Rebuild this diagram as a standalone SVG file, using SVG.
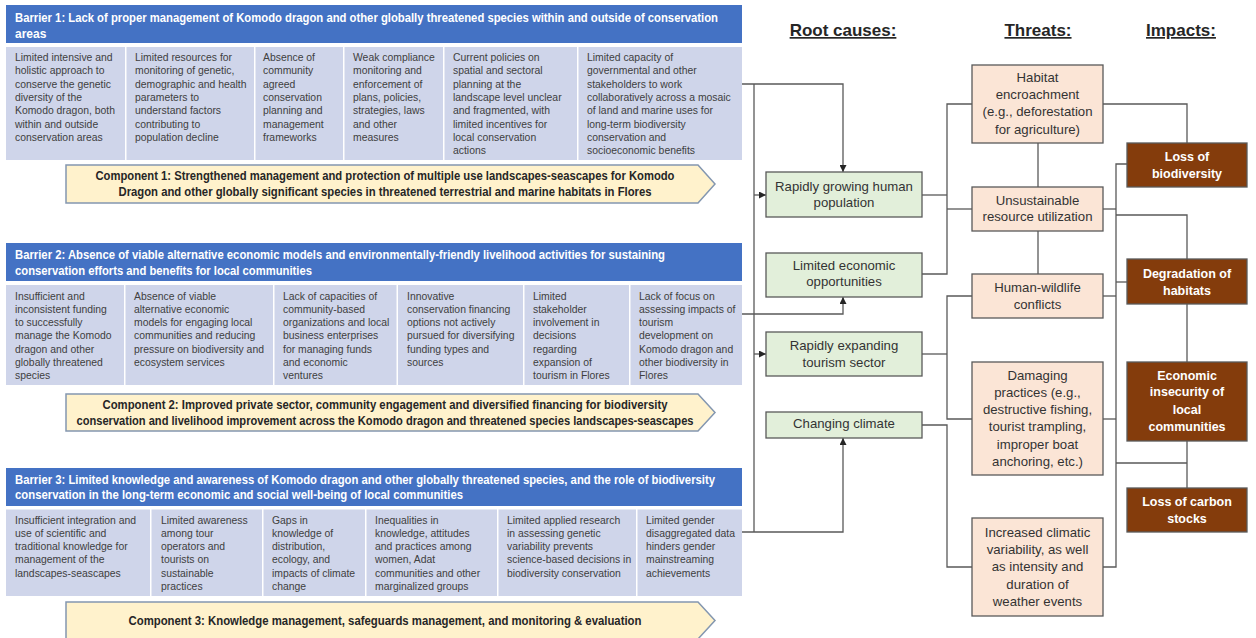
<svg xmlns="http://www.w3.org/2000/svg" width="1256" height="638" viewBox="0 0 1256 638">
<defs>
<style>
.hdr{fill:#4472C4}
.cell{fill:#CFD5EA}
.ht{font-family:"Liberation Sans",Arial,sans-serif;font-size:12px;font-weight:bold;fill:#fff}
.ct{font-family:"Liberation Sans",Arial,sans-serif;font-size:10.4px;fill:#404040}
.comp{fill:#FFF2CC;stroke:#8497B0;stroke-width:1.5}
.cpt{font-family:"Liberation Sans",Arial,sans-serif;font-size:12px;font-weight:bold;fill:#262626;text-anchor:middle}
.rc{fill:#E2EFDA;stroke:#595959;stroke-width:1.3}
.th{fill:#FBE5D6;stroke:#595959;stroke-width:1.3}
.im{fill:#843C0C;stroke:#595959;stroke-width:1.3}
.bt{font-family:"Liberation Sans",Arial,sans-serif;font-size:13.2px;fill:#333;text-anchor:middle}
.it{font-family:"Liberation Sans",Arial,sans-serif;font-size:12.5px;font-weight:bold;fill:#fff;text-anchor:middle}
.ttl{font-family:"Liberation Sans",Arial,sans-serif;font-size:17px;font-weight:bold;fill:#262626;text-anchor:middle;text-decoration:underline}
.conn{stroke:#595959;stroke-width:1.3;fill:none}
</style>
<marker id="ah" viewBox="0 0 10 10" refX="10" refY="5" markerWidth="7" markerHeight="7" markerUnits="userSpaceOnUse" orient="auto">
<path d="M0,0L10,5L0,10z" fill="#262626"/>
</marker>
</defs>
<rect width="1256" height="638" fill="#fff"/>

<!-- Barrier 1 -->
<g id="barrier1">
<rect class="hdr" x="6" y="5" width="736" height="38"/>
<text class="ht"><tspan x="15" y="21.5" textLength="703" lengthAdjust="spacingAndGlyphs">Barrier 1: Lack of proper management of Komodo dragon and other globally threatened species within and outside of conservation</tspan><tspan x="15" y="37.5">areas</tspan></text>
<rect class="cell" x="6" y="47" width="119" height="113"/>
<rect class="cell" x="126.5" y="47" width="127.5" height="113"/>
<rect class="cell" x="255.5" y="47" width="87.5" height="113"/>
<rect class="cell" x="344.5" y="47" width="98.5" height="113"/>
<rect class="cell" x="444.5" y="47" width="132.5" height="113"/>
<rect class="cell" x="578.5" y="47" width="163.5" height="113"/>
<text class="ct"><tspan x="15" y="61">Limited intensive and</tspan><tspan x="15" y="74.3">holistic approach to</tspan><tspan x="15" y="87.6">conserve the genetic</tspan><tspan x="15" y="100.9">diversity of the</tspan><tspan x="15" y="114.2">Komodo dragon, both</tspan><tspan x="15" y="127.5">within and outside</tspan><tspan x="15" y="140.8">conservation areas</tspan></text>
<text class="ct"><tspan x="135" y="61">Limited resources for</tspan><tspan x="135" y="74.3">monitoring of genetic,</tspan><tspan x="135" y="87.6">demographic and health</tspan><tspan x="135" y="100.9">parameters to</tspan><tspan x="135" y="114.2">understand factors</tspan><tspan x="135" y="127.5">contributing to</tspan><tspan x="135" y="140.8">population decline</tspan></text>
<text class="ct"><tspan x="263" y="61">Absence of</tspan><tspan x="263" y="74.3">community</tspan><tspan x="263" y="87.6">agreed</tspan><tspan x="263" y="100.9">conservation</tspan><tspan x="263" y="114.2">planning and</tspan><tspan x="263" y="127.5">management</tspan><tspan x="263" y="140.8">frameworks</tspan></text>
<text class="ct"><tspan x="353" y="61">Weak compliance</tspan><tspan x="353" y="74.3">monitoring and</tspan><tspan x="353" y="87.6">enforcement of</tspan><tspan x="353" y="100.9">plans, policies,</tspan><tspan x="353" y="114.2">strategies, laws</tspan><tspan x="353" y="127.5">and other</tspan><tspan x="353" y="140.8">measures</tspan></text>
<text class="ct"><tspan x="453" y="61">Current policies on</tspan><tspan x="453" y="74.3">spatial and sectoral</tspan><tspan x="453" y="87.6">planning at the</tspan><tspan x="453" y="100.9">landscape level unclear</tspan><tspan x="453" y="114.2">and fragmented, with</tspan><tspan x="453" y="127.5">limited incentives for</tspan><tspan x="453" y="140.8">local conservation</tspan><tspan x="453" y="154.1">actions</tspan></text>
<text class="ct"><tspan x="587" y="61">Limited capacity of</tspan><tspan x="587" y="74.3">governmental and other</tspan><tspan x="587" y="87.6">stakeholders to work</tspan><tspan x="587" y="100.9">collaboratively across a mosaic</tspan><tspan x="587" y="114.2">of land and marine uses for</tspan><tspan x="587" y="127.5">long-term biodiversity</tspan><tspan x="587" y="140.8">conservation and</tspan><tspan x="587" y="154.1">socioeconomic benefits</tspan></text>
</g>
<g id="component1">
<path class="comp" d="M66,165H698L715,184L698,203H66z"/>
<text class="cpt"><tspan x="385" y="180" textLength="579" lengthAdjust="spacingAndGlyphs">Component 1: Strengthened management and protection of multiple use landscapes-seascapes  for Komodo</tspan><tspan x="385" y="196" textLength="533" lengthAdjust="spacingAndGlyphs">Dragon and other globally significant  species in threatened terrestrial and marine habitats  in Flores</tspan></text>
</g>

<!-- Barrier 2 -->
<g id="barrier2">
<rect class="hdr" x="6" y="243" width="736" height="38"/>
<text class="ht"><tspan x="15" y="259" textLength="650" lengthAdjust="spacingAndGlyphs">Barrier 2: Absence of viable alternative economic models and environmentally-friendly livelihood activities for sustaining</tspan><tspan x="15" y="274.5" textLength="297" lengthAdjust="spacingAndGlyphs">conservation  efforts and benefits for local  communities</tspan></text>
<rect class="cell" x="6" y="285" width="118" height="100"/>
<rect class="cell" x="125.5" y="285" width="147.5" height="100"/>
<rect class="cell" x="274.5" y="285" width="122" height="100"/>
<rect class="cell" x="398" y="285" width="125" height="100"/>
<rect class="cell" x="524.5" y="285" width="104.5" height="100"/>
<rect class="cell" x="630.5" y="285" width="111.5" height="100"/>
<text class="ct"><tspan x="15" y="300">Insufficient and</tspan><tspan x="15" y="313">inconsistent funding</tspan><tspan x="15" y="326.3">to successfully</tspan><tspan x="15" y="339.3">manage the Komodo</tspan><tspan x="15" y="352.8">dragon and other</tspan><tspan x="15" y="366.3">globally threatened</tspan><tspan x="15" y="379">species</tspan></text>
<text class="ct"><tspan x="134" y="300">Absence of viable</tspan><tspan x="134" y="313">alternative economic</tspan><tspan x="134" y="326.3">models for engaging local</tspan><tspan x="134" y="339.3">communities and reducing</tspan><tspan x="134" y="352.8">pressure on biodiversity and</tspan><tspan x="134" y="366.3">ecosystem services</tspan></text>
<text class="ct"><tspan x="283" y="300">Lack of capacities of</tspan><tspan x="283" y="313">community-based</tspan><tspan x="283" y="326.3">organizations and local</tspan><tspan x="283" y="339.3">business enterprises</tspan><tspan x="283" y="352.8">for managing funds</tspan><tspan x="283" y="366.3">and economic</tspan><tspan x="283" y="379">ventures</tspan></text>
<text class="ct"><tspan x="407" y="300">Innovative</tspan><tspan x="407" y="313">conservation financing</tspan><tspan x="407" y="326.3">options not actively</tspan><tspan x="407" y="339.3">pursued for diversifying</tspan><tspan x="407" y="352.8">funding types and</tspan><tspan x="407" y="366.3">sources</tspan></text>
<text class="ct"><tspan x="533" y="300">Limited</tspan><tspan x="533" y="313">stakeholder</tspan><tspan x="533" y="326.3">involvement in</tspan><tspan x="533" y="339.3">decisions</tspan><tspan x="533" y="352.8">regarding</tspan><tspan x="533" y="366.3">expansion of</tspan><tspan x="533" y="379">tourism in Flores</tspan></text>
<text class="ct"><tspan x="639" y="300">Lack of focus on</tspan><tspan x="639" y="313">assessing impacts of</tspan><tspan x="639" y="326.3">tourism</tspan><tspan x="639" y="339.3">development on</tspan><tspan x="639" y="352.8">Komodo dragon and</tspan><tspan x="639" y="366.3">other biodiversity in</tspan><tspan x="639" y="379">Flores</tspan></text>
</g>
<g id="component2">
<path class="comp" d="M66,394H698L715,412.5L698,431H66z"/>
<text class="cpt"><tspan x="385" y="409" textLength="565" lengthAdjust="spacingAndGlyphs">Component 2: Improved private sector, community engagement and diversified financing for biodiversity</tspan><tspan x="385" y="424.5" textLength="617" lengthAdjust="spacingAndGlyphs">conservation and livelihood improvement across the Komodo dragon and threatened species landscapes-seascapes</tspan></text>
</g>

<!-- Barrier 3 -->
<g id="barrier3">
<rect class="hdr" x="6" y="468" width="736" height="38"/>
<text class="ht"><tspan x="15" y="483.5" textLength="700" lengthAdjust="spacingAndGlyphs">Barrier 3: Limited knowledge and awareness of Komodo dragon and other globally threatened species, and the role of biodiversity</tspan><tspan x="15" y="499" textLength="448" lengthAdjust="spacingAndGlyphs">conservation  in  the long-term economic and social well-being of local  communities</tspan></text>
<rect class="cell" x="6" y="509.5" width="144" height="86.5"/>
<rect class="cell" x="151.5" y="509.5" width="110.5" height="86.5"/>
<rect class="cell" x="263.5" y="509.5" width="101.5" height="86.5"/>
<rect class="cell" x="366.5" y="509.5" width="130.5" height="86.5"/>
<rect class="cell" x="498.5" y="509.5" width="137.5" height="86.5"/>
<rect class="cell" x="637.5" y="509.5" width="104.5" height="86.5"/>
<text class="ct"><tspan x="15" y="523.5">Insufficient integration and</tspan><tspan x="15" y="536.5">use of scientific and</tspan><tspan x="15" y="550">traditional knowledge for</tspan><tspan x="15" y="563">management of the</tspan><tspan x="15" y="576.5">landscapes-seascapes</tspan></text>
<text class="ct"><tspan x="161" y="523.5">Limited awareness</tspan><tspan x="161" y="536.5">among tour</tspan><tspan x="161" y="550">operators and</tspan><tspan x="161" y="563">tourists on</tspan><tspan x="161" y="576.5">sustainable</tspan><tspan x="161" y="590">practices</tspan></text>
<text class="ct"><tspan x="272" y="523.5">Gaps in</tspan><tspan x="272" y="536.5">knowledge of</tspan><tspan x="272" y="550">distribution,</tspan><tspan x="272" y="563">ecology, and</tspan><tspan x="272" y="576.5">impacts of climate</tspan><tspan x="272" y="590">change</tspan></text>
<text class="ct"><tspan x="375" y="523.5">Inequalities in</tspan><tspan x="375" y="536.5">knowledge, attitudes</tspan><tspan x="375" y="550">and practices among</tspan><tspan x="375" y="563">women, Adat</tspan><tspan x="375" y="576.5">communities and other</tspan><tspan x="375" y="590">marginalized groups</tspan></text>
<text class="ct"><tspan x="507" y="523.5">Limited applied research</tspan><tspan x="507" y="536.5">in assessing genetic</tspan><tspan x="507" y="550">variability prevents</tspan><tspan x="507" y="563">science-based decisions in</tspan><tspan x="507" y="576.5">biodiversity conservation</tspan></text>
<text class="ct"><tspan x="646" y="523.5">Limited gender</tspan><tspan x="646" y="536.5">disaggregated data</tspan><tspan x="646" y="550">hinders gender</tspan><tspan x="646" y="563">mainstreaming</tspan><tspan x="646" y="576.5">achievements</tspan></text>
</g>
<g id="component3">
<path class="comp" d="M66,602H698L715,620.5L698,639H66z"/>
<text class="cpt" x="385" y="625" textLength="513" lengthAdjust="spacingAndGlyphs">Component 3: Knowledge management, safeguards management, and monitoring &amp; evaluation</text>
</g>

<!-- Titles -->
<g id="titles">
<text class="ttl" x="843" y="36">Root causes:</text>
<text class="ttl" x="1038" y="36">Threats:</text>
<text class="ttl" x="1181" y="36">Impacts:</text>
</g>

<!-- Connectors -->
<g id="connectors">
<path class="conn" d="M742,84H843V172" marker-end="url(#ah)"/>
<path class="conn" d="M754,84V532"/>
<path class="conn" d="M754,195H766" marker-end="url(#ah)"/>
<path class="conn" d="M742,314H843V297" marker-end="url(#ah)"/>
<path class="conn" d="M754,354H766" marker-end="url(#ah)"/>
<path class="conn" d="M742,532H843V438" marker-end="url(#ah)"/>
<path class="conn" d="M922,195H947"/>
<path class="conn" d="M972,104H947V274H922"/>
<path class="conn" d="M947,209H972"/>
<path class="conn" d="M1038,143V187"/>
<path class="conn" d="M1038,231V274"/>
<path class="conn" d="M972,296H947V419H972"/>
<path class="conn" d="M922,354H947"/>
<path class="conn" d="M922,425H947V567H972"/>
<path class="conn" d="M1103,104H1187V143"/>
<path class="conn" d="M1127,164H1116V567H1103"/>
<path class="conn" d="M1103,209H1116"/>
<path class="conn" d="M1116,215H1187V259"/>
<path class="conn" d="M1103,296H1116"/>
<path class="conn" d="M1116,282H1127"/>
<path class="conn" d="M1187,304V362"/>
<path class="conn" d="M1103,419H1116"/>
<path class="conn" d="M1116,463H1187"/>
<path class="conn" d="M1187,441V488"/>
</g>

<!-- Root causes -->
<g id="rc1"><rect class="rc" x="766" y="172" width="156" height="45"/><text class="bt"><tspan x="844" y="190.5">Rapidly growing human</tspan><tspan x="844" y="207">population</tspan></text></g>
<g id="rc2"><rect class="rc" x="766" y="253" width="156" height="44"/><text class="bt"><tspan x="844" y="269.5">Limited economic</tspan><tspan x="844" y="286">opportunities</tspan></text></g>
<g id="rc3"><rect class="rc" x="766" y="332" width="156" height="44"/><text class="bt"><tspan x="844" y="350">Rapidly expanding</tspan><tspan x="844" y="366.5">tourism sector</tspan></text></g>
<g id="rc4"><rect class="rc" x="766" y="412" width="156" height="26"/><text class="bt" x="844" y="428">Changing climate</text></g>

<!-- Threats -->
<g id="th1"><rect class="th" x="972" y="65" width="131" height="78"/><text class="bt"><tspan x="1037.5" y="82">Habitat</tspan><tspan x="1037.5" y="99">encroachment</tspan><tspan x="1037.5" y="116">(e.g., deforestation</tspan><tspan x="1037.5" y="133.5">for agriculture)</tspan></text></g>
<g id="th2"><rect class="th" x="972" y="187" width="131" height="44"/><text class="bt"><tspan x="1037.5" y="204.5">Unsustainable</tspan><tspan x="1037.5" y="221">resource utilization</tspan></text></g>
<g id="th3"><rect class="th" x="972" y="274" width="131" height="44"/><text class="bt"><tspan x="1037.5" y="292">Human-wildlife</tspan><tspan x="1037.5" y="308.5">conflicts</tspan></text></g>
<g id="th4"><rect class="th" x="972" y="362" width="131" height="113"/><text class="bt"><tspan x="1037.5" y="379.5">Damaging</tspan><tspan x="1037.5" y="396.8">practices (e.g.,</tspan><tspan x="1037.5" y="413.5">destructive fishing,</tspan><tspan x="1037.5" y="431">tourist trampling,</tspan><tspan x="1037.5" y="448.5">improper boat</tspan><tspan x="1037.5" y="466">anchoring, etc.)</tspan></text></g>
<g id="th5"><rect class="th" x="972" y="518" width="131" height="98"/><text class="bt"><tspan x="1037.5" y="537">Increased climatic</tspan><tspan x="1037.5" y="553.5">variability, as well</tspan><tspan x="1037.5" y="571">as intensity and</tspan><tspan x="1037.5" y="588.5">duration of</tspan><tspan x="1037.5" y="605.5">weather events</tspan></text></g>

<!-- Impacts -->
<g id="im1"><rect class="im" x="1127" y="143" width="120" height="44"/><text class="it"><tspan x="1187" y="161">Loss of</tspan><tspan x="1187" y="178">biodiversity</tspan></text></g>
<g id="im2"><rect class="im" x="1127" y="259" width="120" height="45"/><text class="it"><tspan x="1187" y="278">Degradation of</tspan><tspan x="1187" y="294.5">habitats</tspan></text></g>
<g id="im3"><rect class="im" x="1127" y="362" width="120" height="79"/><text class="it"><tspan x="1187" y="379.5">Economic</tspan><tspan x="1187" y="396">insecurity of</tspan><tspan x="1187" y="413.5">local</tspan><tspan x="1187" y="431">communities</tspan></text></g>
<g id="im4"><rect class="im" x="1127" y="488" width="120" height="44"/><text class="it"><tspan x="1187" y="506">Loss of carbon</tspan><tspan x="1187" y="523">stocks</tspan></text></g>
</svg>
